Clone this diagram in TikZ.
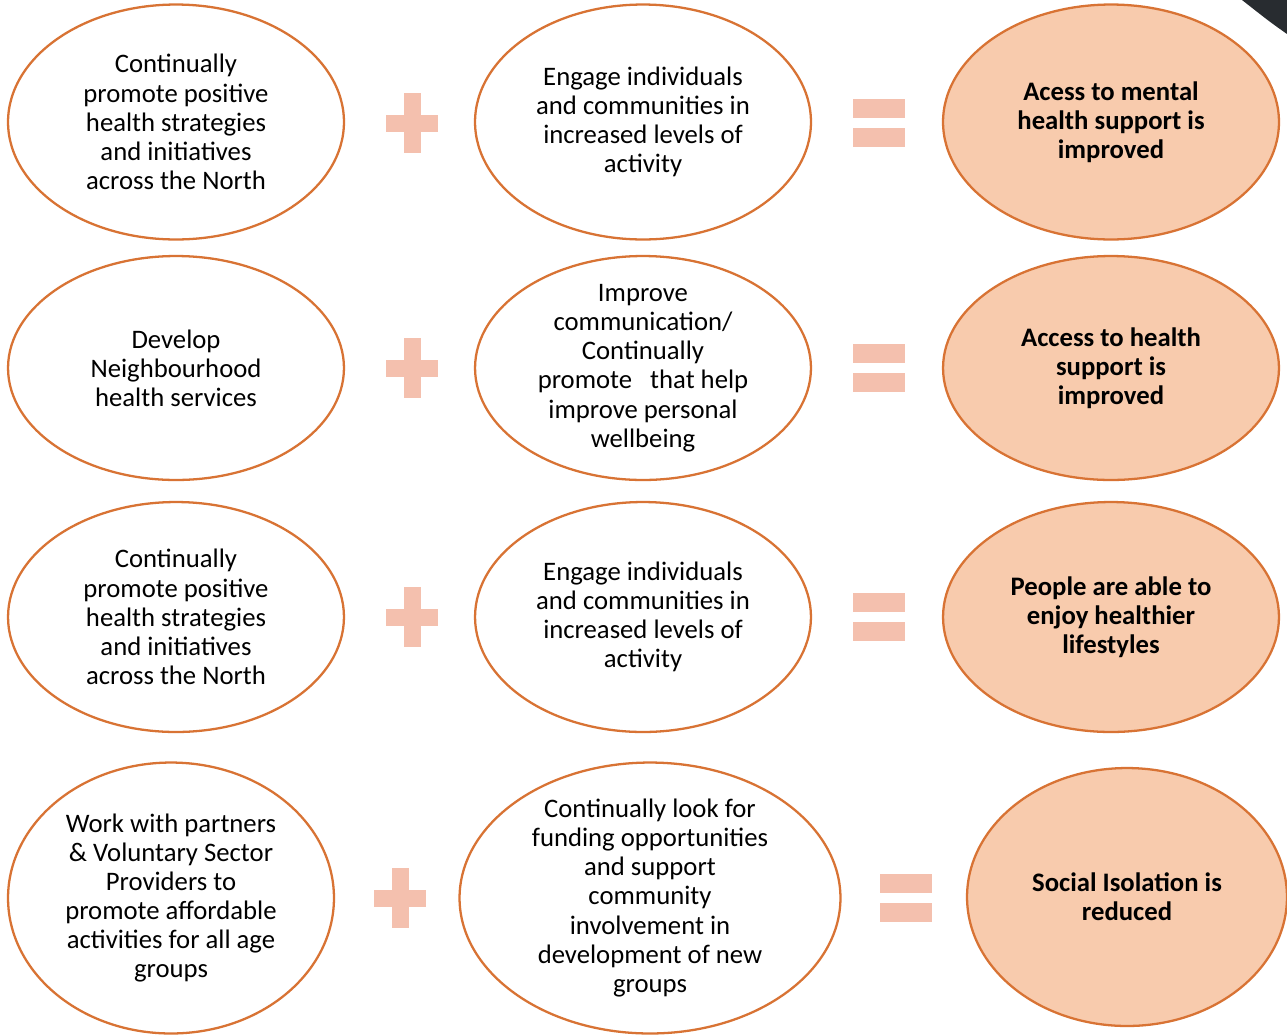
\documentclass[tikz,border=0pt]{standalone}
\usepackage{fontspec}
\setmainfont{Carlito}
\usetikzlibrary{shapes.geometric, positioning}
\definecolor{edgeorange}{RGB}{216,115,52}
\definecolor{outfill}{RGB}{248,203,173}
\definecolor{signpink}{RGB}{244,192,174}
\definecolor{photodark}{RGB}{40,44,48}
\tikzset{
  aim/.style={ellipse, draw=edgeorange, line width=1.3pt, fill=white,
              inner sep=0pt, minimum width=6.72cm},
  aimO/.style={aim, fill=outfill},
  txt/.style={align=center, font=\fontsize{15.2}{16.6}\selectfont},
  txtB/.style={align=center, font=\fontsize{15.2}{16.6}\selectfont\bfseries},
  hbar/.style={rectangle, fill=signpink, inner sep=0pt,
               minimum width=1.04cm, minimum height=0.34cm},
  vbar/.style={hbar, minimum width=0.34cm, minimum height=1.2cm},
  ebar/.style={hbar, minimum width=1.04cm, minimum height=0.38cm},
}

\begin{document}
\begin{tikzpicture}[x=0.02cm, y=-0.02cm]
  \useasboundingbox (0,0) rectangle (1287,1035);

  % --- Row 1 ---
  \node[aim, minimum height=4.7cm, label={[txt]center:{Continually\\promote positive\\health strategies\\and initiatives\\across the North}}]
    (act1) at (176,122) {};
  \node[aim, minimum height=4.7cm, label={[txt]center:{Engage individuals\\and communities in\\increased levels of\\activity}}]
    (how1) at (643,122) {};
  \node[aimO, minimum height=4.7cm, label={[txtB]center:{Acess to mental\\health support is\\improved}}]
    (out1) at (1111,122) {};

  % --- Row 2 ---
  \node[aim, minimum height=4.48cm, label={[txt]center:{Develop\\Neighbourhood\\health services}}]
    (act2) at (176,368) {};
  \node[aim, minimum height=4.48cm, label={[txt]center:{Improve\\communication/\\Continually\\promote\ \ \ that help\\improve personal\\wellbeing}}]
    (how2) at (643,368) {};
  \node[aimO, minimum height=4.48cm, label={[txtB]center:{Access to health\\support is\\improved}}]
    (out2) at (1111,368) {};

  % --- Row 3 ---
  \node[aim, minimum height=4.6cm, label={[txt]center:{Continually\\promote positive\\health strategies\\and initiatives\\across the North}}]
    (act3) at (176,617) {};
  \node[aim, minimum height=4.6cm, label={[txt]center:{Engage individuals\\and communities in\\increased levels of\\activity}}]
    (how3) at (643,617) {};
  \node[aimO, minimum height=4.6cm, label={[txtB]center:{People are able to\\enjoy healthier\\lifestyles}}]
    (out3) at (1111,617) {};

  % --- Row 4 ---
  \node[aim, minimum width=6.52cm, minimum height=5.42cm, label={[txt]center:{Work with partners\\\& Voluntary Sector\\Providers to\\promote affordable\\activities for all age\\groups}}]
    (act4) at (171,898) {};
  \node[aim, minimum width=7.62cm, minimum height=5.42cm, label={[txt]center:{Continually look for\\funding opportunities\\and support\\community\\involvement in\\development of new\\groups}}]
    (how4) at (650,898) {};
  \node[aimO, minimum width=6.4cm, minimum height=5.16cm, label={[txtB]center:{Social Isolation is\\reduced}}]
    (out4) at (1127,897) {};

  % --- Plus and equals signs ---
  \foreach \y/\px/\ex in {123/412/879, 368/412/879, 617/412/879, 898/400/906} {
    \node[hbar] (plh\y) at (\px,\y) {};
    \node[vbar] (plv\y) at (\px,\y) {};
    \node[ebar] (eqa\y) at (\ex,\y-14.5) {};
    \node[ebar] (eqb\y) at (\ex,\y+14.5) {};
  }

  % --- photo corner ---
  \fill[photodark] (1242,0) -- (1287,0) -- (1287,34) .. controls (1270,22) .. cycle;

\end{tikzpicture}
\end{document}
